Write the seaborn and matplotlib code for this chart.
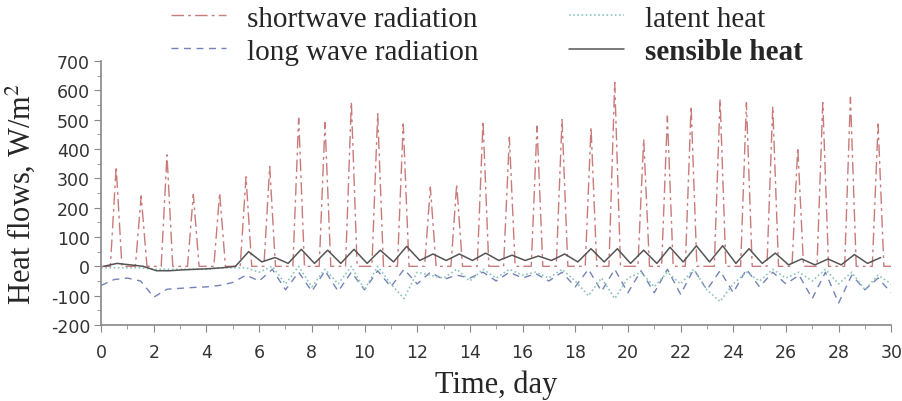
import numpy as np
import pandas as pd
import matplotlib
matplotlib.use("Agg")
import matplotlib.pyplot as plt
import seaborn as sns

# shortwave radiation: time of the daily peak (day) and peak value (W/m2)
sw_peak_day = [0.57, 1.52, 2.5, 3.5, 4.5, 5.5, 6.4, 7.5, 8.5, 9.5,
               10.5, 11.47, 12.5, 13.5, 14.5, 15.5, 16.55, 17.5, 18.6, 19.5,
               20.6, 21.5, 22.4, 23.5, 24.5, 25.5, 26.45, 27.4, 28.45, 29.5]
sw_peak = [340, 240, 380, 245, 250, 305, 340, 505, 490, 560,
           520, 485, 270, 280, 495, 440, 478, 500, 474, 627,
           433, 512, 546, 570, 558, 545, 405, 558, 576, 485]

# long wave radiation, sampled every half day from day 0 to 30
lw_t = np.arange(0, 30.01, 0.5)
lw_v = [-65, -45, -40, -50, -105, -78, -75, -72, -70, -65,
        -55, -30, -50, -10, -80, -20, -85, -15, -85, -20,
        -80, -15, -70, -10, -60, -20, -45, -30, -40, -20,
        -50, -20, -40, -25, -50, -20, -70, -10, -85, -10,
        -90, -15, -90, -10, -95, -10, -80, -15, -90, -10,
        -70, -20, -60, -30, -110, -20, -125, -30, -80, -40, -90]

# latent heat, same half-day sampling
lh_t = np.arange(0, 30.01, 0.5)
lh_v = [-5, -5, -5, -5, -10, -10, -10, -10, -10, -5,
        -5, -5, -20, 0, -60, 0, -70, -10, -60, 0,
        -80, 0, -60, -110, -20, -30, -40, -10, -50, -10,
        -40, -10, -30, -20, -40, -10, -50, -100, -40, -110,
        -40, -20, -70, -20, -60, -10, -80, -120, -60, -20,
        -50, -10, -40, -20, -50, -10, -60, -20, -80, -30, -60]

# sensible heat: daily minimum (~d+0.1) and maximum (~d+0.6)
sh_min = [0, 5, -15, -12, -8, 0, 15, 10, 10, 10,
          10, 15, 20, 20, 20, 20, 20, 20, 15, 15,
          10, 10, 15, 15, 10, 10, 5, 5, 5, 10]
sh_max = [10, 0, -15, -10, -5, 50, 30, 58, 55, 58,
          55, 68, 42, 42, 45, 38, 35, 42, 60, 60,
          55, 65, 70, 70, 60, 45, 25, 25, 40, 30]

sw_t, sw_v = [0.0], [0.0]
for t, p in zip(sw_peak_day, sw_peak):
    sw_t += [t - 0.22, t, t + 0.22]
    sw_v += [0, p, 0]
sw_t.append(30.0)
sw_v.append(0.0)

sh_t, sh_v = [], []
for d, (lo, hi) in enumerate(zip(sh_min, sh_max)):
    sh_t += [d + 0.1, d + 0.6]
    sh_v += [lo, hi]

sns.set_style("ticks")
plt.rcParams["mathtext.fontset"] = "stix"
plt.rcParams["axes.unicode_minus"] = False

fig = plt.figure(figsize=(9.03, 4.02), dpi=100)
ax = fig.add_axes([0.112, 0.189, 0.875, 0.657])

sns.lineplot(x=sw_t, y=sw_v, ax=ax, color="#c97a7a", lw=1.0,
             label="shortwave radiation")
sns.lineplot(x=lw_t, y=lw_v, ax=ax, color="#7482b8", lw=1.0,
             label="long wave radiation")
sns.lineplot(x=lh_t, y=lh_v, ax=ax, color="#8fc4bc", lw=1.2,
             label="latent heat")
sns.lineplot(x=sh_t, y=sh_v, ax=ax, color="#555555", lw=1.1,
             label="sensible heat")
lines = ax.get_lines()
lines[0].set_dashes([9, 3, 2, 3])
lines[1].set_dashes([5, 4])
lines[2].set_dashes([1, 1.5])

ax.set_xlim(0, 30)
ax.set_ylim(-200, 700)
ax.set_xticks(np.arange(0, 31, 2))
ax.set_xticks(np.arange(0, 31, 1), minor=True)
ax.set_yticks(np.arange(-200, 701, 100))
ax.set_yticks(np.arange(-200, 701, 50), minor=True)
sns.despine(ax=ax)
for s in ["left", "bottom"]:
    ax.spines[s].set_color("#888888")
    ax.spines[s].set_linewidth(1.2)
ax.tick_params(which="both", color="#888888", direction="out",
               labelcolor="#333333")
ax.tick_params(which="major", length=5, labelsize=12.5, pad=3)
ax.tick_params(axis="x", which="major", pad=8)
ax.tick_params(which="minor", length=3)

ax.set_xlabel("Time, day", family="Liberation Serif", fontsize=22, labelpad=6)
ax.set_ylabel(r"Heat flows, W/m$^2$", family="Liberation Serif", fontsize=22,
              labelpad=10)

handles, labels = ax.get_legend_handles_labels()
ax.get_legend().remove()
leg = fig.legend(handles, labels, ncol=2, loc="center",
                 bbox_to_anchor=(0.539, 0.91), frameon=False,
                 prop={"family": "Liberation Serif", "size": 21},
                 handlelength=1.9, handletextpad=0.7, columnspacing=3.1,
                 labelspacing=0.22)
leg.get_texts()[3].set_fontweight("bold")

fig.savefig("out.png", dpi=100)
